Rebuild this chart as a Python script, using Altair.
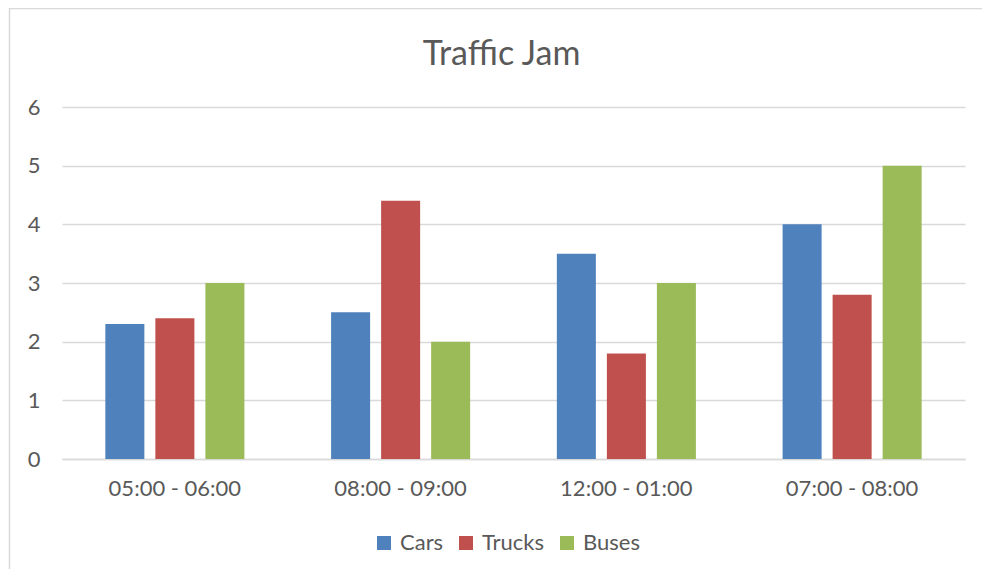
import altair as alt
import pandas as pd

periods = ["05:00 - 06:00", "08:00 - 09:00", "12:00 - 01:00", "07:00 - 08:00"]
series = ["Cars", "Trucks", "Buses"]
cars = [2.3, 2.5, 3.5, 4.0]
trucks = [2.4, 4.4, 1.8, 2.8]
buses = [3.0, 2.0, 3.0, 5.0]
colors = ["#4F81BD", "#C0504D", "#9BBB59"]
y_ticks = [0, 1, 2, 3, 4, 5, 6]

rows = []
for name, vals in zip(series, [cars, trucks, buses]):
    for p, v in zip(periods, vals):
        rows.append({"period": p, "series": name, "value": v})
df = pd.DataFrame(rows)

FONT = "Lato"
TXT = "#595959"
GRID = "#d9d9d9"
FS = 22

bars = alt.Chart(df).mark_bar().encode(
    x=alt.X("period:N", sort=periods, title=None,
            scale=alt.Scale(paddingInner=0.384, paddingOuter=0.192),
            axis=alt.Axis(labelAngle=0, labelFontSize=FS, labelColor=TXT, labelFont=FONT,
                          labelPadding=19, ticks=False, domainColor=GRID, domainWidth=1.5,
                          grid=False)),
    xOffset=alt.XOffset("series:N", sort=series,
                        scale=alt.Scale(paddingInner=0.22, paddingOuter=0)),
    y=alt.Y("value:Q", title=None, scale=alt.Scale(domain=[0, 6], nice=False),
            axis=alt.Axis(values=y_ticks, labelFontSize=FS, labelColor=TXT, labelFont=FONT,
                          labelPadding=22, ticks=False, domain=False, gridColor=GRID,
                          gridWidth=1.5)),
    color=alt.Color("series:N", sort=series,
                    scale=alt.Scale(domain=series, range=colors),
                    legend=alt.Legend(title=None, orient="none", direction="horizontal",
                                      legendX=311, legendY=425, symbolType="square",
                                      symbolSize=196, symbolStrokeWidth=0, labelFontSize=FS,
                                      labelColor=TXT, labelFont=FONT, labelOffset=5,
                                      columnPadding=11)),
)

frame = alt.Chart(pd.DataFrame({"a": [0]})).mark_rect(
    fill=None, stroke=GRID, strokeWidth=1.5
).encode(
    x=alt.value(-52.5), x2=alt.value(960), y=alt.value(-98.5), y2=alt.value(480)
)

chart = alt.layer(frame, bars).properties(
    width=903, height=352,
    background="white",
    title=alt.TitleParams("Traffic Jam", fontSize=34, font=FONT, fontWeight="normal",
                          color=TXT, anchor="middle", offset=-64, dx=-12),
    autosize=alt.AutoSizeParams(type="none"),
    padding={"left": 54, "top": 99, "right": 17, "bottom": 110},
).configure_view(strokeWidth=0, stroke=None)

chart.save("out.html", embed_options={"renderer": "svg", "actions": False})
